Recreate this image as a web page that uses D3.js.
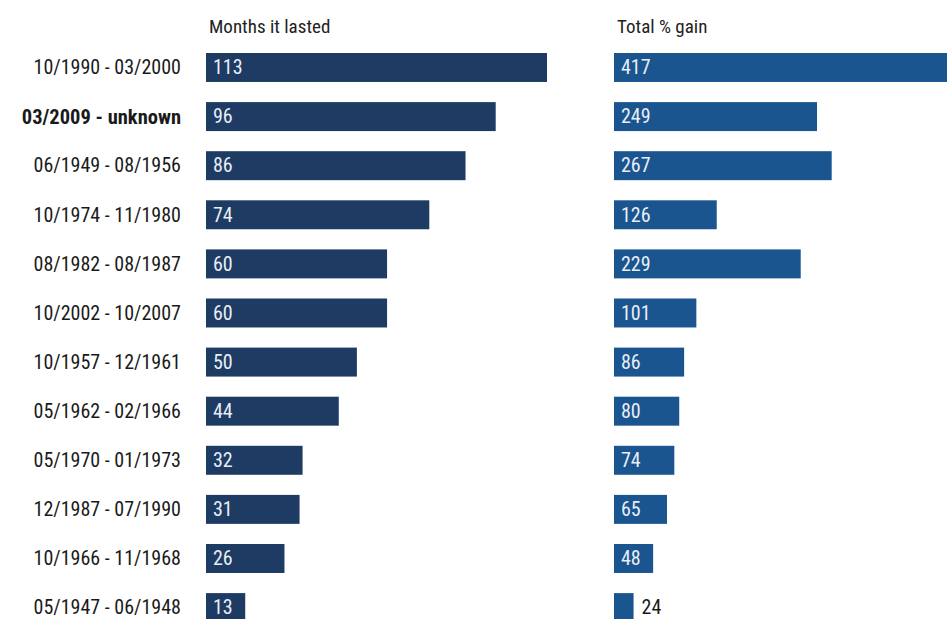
<!DOCTYPE html>
<html>
<head>
<meta charset="utf-8">
<script src="https://cdn.jsdelivr.net/npm/d3@7/dist/d3.min.js"></script>
<style>
  html, body { margin: 0; padding: 0; background: #fff; overflow: hidden; }
  svg { display: block; font-family: "Liberation Sans Narrow", "Arial Narrow", "Roboto Condensed", sans-serif; }
</style>
</head>
<body>
<svg id="chart" width="947" height="619"></svg>
<script>
// Bull markets: period, duration in months, total percentage gain
const periods = [
  "10/1990 - 03/2000", "03/2009 - unknown", "06/1949 - 08/1956", "10/1974 - 11/1980",
  "08/1982 - 08/1987", "10/2002 - 10/2007", "10/1957 - 12/1961", "05/1962 - 02/1966",
  "05/1970 - 01/1973", "12/1987 - 07/1990", "10/1966 - 11/1968", "05/1947 - 06/1948"
];
const monthsLasted = [113, 96, 86, 74, 60, 60, 50, 44, 32, 31, 26, 13];
const totalGain = [417, 249, 267, 126, 229, 101, 86, 80, 74, 65, 48, 24];
const highlighted = ["03/2009 - unknown"];
const panelTitles = ["Months it lasted", "Total % gain"];

const svg = d3.select("#chart");

const rowStep = 49.1;
const y = d3.scaleBand()
  .domain(periods)
  .range([53 - rowStep * 0.205, 53 - rowStep * 0.205 + rowStep * periods.length])
  .paddingInner(0.41)
  .paddingOuter(0.205);

// Row labels
svg.append("g")
  .selectAll("text")
  .data(periods)
  .join("text")
  .attr("x", 181)
  .attr("y", d => y(d) + y.bandwidth() / 2)
  .attr("dy", "0.34em")
  .attr("text-anchor", "end")
  .attr("font-size", d => highlighted.includes(d) ? 20.5 : 20)
  .attr("font-weight", d => highlighted.includes(d) ? "bold" : "normal")
  .attr("fill", "#1a1a1a")
  .text(d => d);

function panel(values, x0, width, color, title) {
  const x = d3.scaleLinear().domain([0, d3.max(values)]).range([x0, x0 + width]);
  const g = svg.append("g");

  g.append("text")
    .attr("x", x0 + 3)
    .attr("y", 33)
    .attr("font-size", 19)
    .attr("fill", "#222")
    .text(title);

  const rows = periods.map((p, i) => ({ p, v: values[i] }));

  g.selectAll("rect")
    .data(rows)
    .join("rect")
    .attr("x", x(0))
    .attr("y", d => y(d.p))
    .attr("width", d => x(d.v) - x(0))
    .attr("height", y.bandwidth())
    .attr("fill", color);

  g.selectAll("text.val")
    .data(rows)
    .join("text")
    .attr("class", "val")
    .each(function (d) {
      const w = x(d.v) - x(0);
      const inside = w > 30;
      d3.select(this)
        .attr("x", inside ? x(0) + 7 : x(d.v) + 8)
        .attr("fill", inside ? "#e9eef5" : "#1a1a1a");
    })
    .attr("y", d => y(d.p) + y.bandwidth() / 2)
    .attr("dy", "0.34em")
    .attr("font-size", 20)
    .text(d => d.v);
}

panel(monthsLasted, 206, 341, "#1d3b63", panelTitles[0]);
panel(totalGain, 614, 340, "#1a5590", panelTitles[1]);
</script>
</body>
</html>
